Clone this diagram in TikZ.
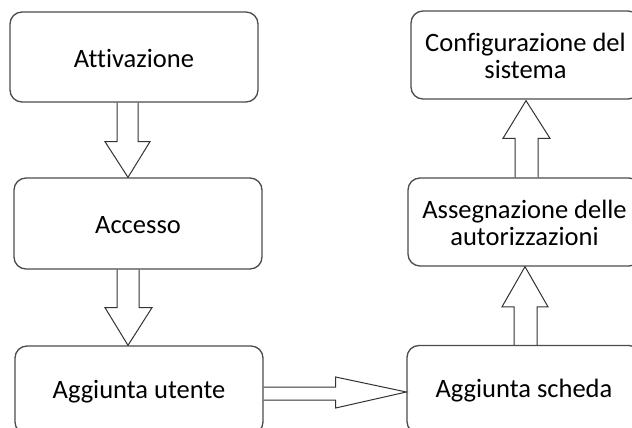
\documentclass[tikz,border=0pt]{standalone}
\usepackage{fontspec}
\setmainfont[Ligatures=NoCommon]{Carlito}
\usetikzlibrary{calc}
\newcommand{\lnstrut}{\rule[-1pt]{0pt}{22pt}}
\tikzset{
  box/.style={draw=black!70, line width=1.3pt, rounded corners=12pt, inner sep=0pt,
    align=center, font=\fontsize{26.5}{27}\selectfont},
  blk/.style={draw=black!80, line width=1pt, line join=miter}
}
\begin{document}
\begin{tikzpicture}[x=1pt,y=-1pt]
\useasboundingbox (0,0) rectangle (632,428);
\fill[white] (0,0) rectangle (632,428);
\clip (0,0) rectangle (632,428);
\node[box, minimum width=248pt, minimum height=90pt] (a) at (134,57) {\lnstrut Attivazione};
\node[box, minimum width=248pt, minimum height=91pt] (b) at (138,223.5) {\lnstrut Accesso};
\node[box, minimum width=248pt, minimum height=88pt] (c) at (139,390) {\lnstrut Aggiunta utente};
\node[box, minimum width=234pt, minimum height=88pt] (d) at (524,389.5) {\lnstrut Aggiunta scheda};
\node[box, minimum width=233pt, minimum height=88pt] (e) at (524.5,222) {\lnstrut Assegnazione delle\\\lnstrut autorizzazioni};
\node[box, minimum width=229pt, minimum height=88pt] (f) at (525.5,55) {\lnstrut Configurazione del\\\lnstrut sistema};
% arrow a -> b
\draw[blk] ($(a.south)+(-17,0)$) -- ($(a.south)+(-17,39)$) -- ($(a.south)+(-29,39)$)
  -- ($(b.north)+(-10,0)$) -- ($(a.south)+(16,39)$) -- ($(a.south)+(4,39)$) -- ($(a.south)+(4,0)$);
% arrow b -> c
\draw[blk] ($(b.south)+(-21,0)$) -- ($(b.south)+(-21,38)$) -- ($(b.south)+(-33,38)$)
  -- ($(c.north)+(-11,0)$) -- ($(b.south)+(14,38)$) -- ($(b.south)+(1,38)$) -- ($(b.south)+(1,0)$);
% arrow c -> d
\draw[blk] ($(c.east)+(0,-3)$) -- ($(c.east)+(72,-3)$) -- ($(c.east)+(72,-13)$)
  -- ($(d.west)+(0,2.5)$) -- ($(c.east)+(72,18)$) -- ($(c.east)+(72,10)$) -- ($(c.east)+(0,10)$);
% arrow d -> e
\draw[blk] ($(d.north)+(-10,0)$) -- ($(d.north)+(-10,-38)$) -- ($(d.north)+(-22,-38)$)
  -- ($(e.south)+(0.5,0)$) -- ($(d.north)+(24,-38)$) -- ($(d.north)+(13,-38)$) -- ($(d.north)+(13,0)$);
% arrow e -> f
\draw[blk] ($(e.north)+(-9.5,0)$) -- ($(e.north)+(-9.5,-39)$) -- ($(e.north)+(-21.5,-39)$)
  -- ($(f.south)+(0.5,1)$) -- ($(e.north)+(25.5,-39)$) -- ($(e.north)+(13.5,-39)$) -- ($(e.north)+(13.5,0)$);
\end{tikzpicture}
\end{document}
